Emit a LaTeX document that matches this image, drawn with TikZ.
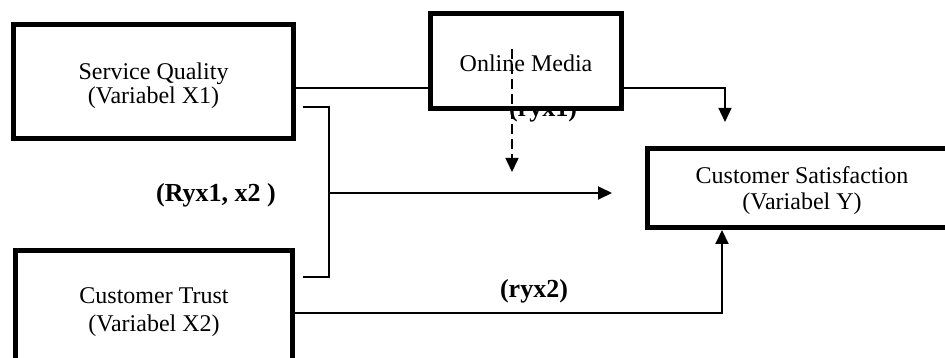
\documentclass[tikz,border=0pt]{standalone}
\usepackage{fontspec}
\setmainfont{Liberation Serif}
\usetikzlibrary{arrows.meta,positioning}

\begin{document}
\begin{tikzpicture}[x=1pt, y=-1pt,
  box/.style={draw, line width=5pt, fill=white, align=center, inner sep=0pt, text depth=0pt},
  thinline/.style={line width=1.3pt},
  conn/.style={line width=2pt, -{Triangle[length=14pt, width=13pt]}},
  lbl/.style={font=\fontsize{26}{28}\selectfont\bfseries, inner sep=0pt, anchor=base}]
  \useasboundingbox (0,0) rectangle (945,358);
  \clip (0,0) rectangle (945,358);
  % variables
  \node[box, minimum width=280pt, minimum height=114pt, text height=45pt,
    font=\fontsize{24}{24}\selectfont] (sq) at (153.5,81.5) {Service Quality\\(Variabel X1)};
  \node[box, minimum width=277pt, minimum height=120pt, text height=41pt,
    font=\fontsize{24}{28}\selectfont] (ct) at (154,310.5) {Customer Trust\\(Variabel X2)};
  \node[box, minimum width=310pt, minimum height=79pt, text height=44pt,
    font=\fontsize{24}{26}\selectfont] (cs) at (802,188) {Customer Satisfaction\\(Variabel Y)};
  \node[lbl] (ryxA) at (543,117) {(ryx1)};
  \node[box, minimum width=191pt, minimum height=95pt, text height=22pt,
    font=\fontsize{24}{26}\selectfont] (om) at (526,61) {Online Media};
  % free ends
  \coordinate (omtip) at (725,122);
  \coordinate (brtop) at (303,107);
  \coordinate (brbot) at (303,277);
  \coordinate (jn) at (329,193);
  \coordinate (midtip) at (612,193);
  \coordinate (dtop) at (512,49);
  \coordinate (dtip) at (512,172);
  % connectors
  \draw[thinline] ([yshift=-6.5pt]sq.east) -- ([yshift=-6.5pt]sq.east -| om.west);
  \draw[thinline, -{Triangle[length=14pt, width=13pt]}] ([yshift=-6.5pt]sq.east -| om.east) -| (omtip);
  \draw[line width=1.6pt] (brtop) -- ++(26,0) |- (brbot);
  \draw[conn] (jn) -- (midtip);
  \draw[conn] ([yshift=-2.5pt]ct.east) -| ([xshift=-80pt]cs.south);
  \draw[line width=1.6pt, dash pattern=on 10pt off 5pt, -{Triangle[length=14pt, width=13pt]}] (dtop) -- (dtip);
  % path labels
  \node[lbl] (ryxB) at (216,202) {(Ryx1, x2 )};
  \node[lbl] (ryxC) at (534,297) {(ryx2)};
\end{tikzpicture}
\end{document}
